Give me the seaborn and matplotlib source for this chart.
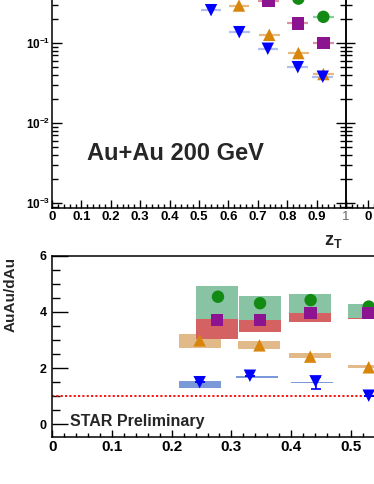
import numpy as np
import pandas as pd
import matplotlib
matplotlib.use("Agg")
import matplotlib.pyplot as plt
import matplotlib.ticker as mtick
import seaborn as sns

# ── Data: top panel, per-trigger yield vs zT ─────────────────────────────────
blue_zt   = [0.541, 0.637, 0.734, 0.836, 0.921]
blue_y    = [0.258, 0.137, 0.085, 0.050, 0.038]
orange_zt = [0.636, 0.739, 0.838, 0.923]
orange_y  = [0.295, 0.127, 0.075, 0.041]
purple_zt = [0.736, 0.836, 0.923]
purple_y  = [0.340, 0.176, 0.100]
green_zt  = [0.838, 0.923]
green_y   = [0.360, 0.213]

# ── Data: bottom panel, AuAu/dAu ratio ───────────────────────────────────────
r_green_x  = [0.2775, 0.348, 0.4327, 0.530]
r_green_y  = [4.54, 4.31, 4.42, 4.19]
r_purple_x = [0.276, 0.348, 0.4327, 0.530]
r_purple_y = [3.71, 3.71, 3.97, 3.97]
r_orange_x = [0.2468, 0.347, 0.432, 0.530]
r_orange_y = [2.99, 2.81, 2.41, 2.03]
r_blue_x   = [0.2468, 0.331, 0.441, 0.530]
r_blue_y   = [1.50, 1.73, 1.53, 1.02]
r_blue_err_lo = [0.0, 0.0, 0.28, 0.0]
r_blue_err_hi = [0.0, 0.0, 0.15, 0.0]

# systematic boxes (centre, low, high)
sys_green_x  = [0.2765, 0.348, 0.4316, 0.531]
sys_green_lo = [3.75, 3.72, 3.97, 3.77]
sys_green_hi = [4.91, 4.57, 4.64, 4.28]
sys_red_x    = [0.2765, 0.348, 0.4316, 0.531]
sys_red_lo   = [3.04, 3.27, 3.63, 3.74]
sys_red_hi   = [3.75, 3.72, 3.97, 3.77]
sys_orange_x  = [0.2468, 0.346, 0.432, 0.531]
sys_orange_lo = [2.71, 2.67, 2.37, 1.99]
sys_orange_hi = [3.20, 2.96, 2.53, 2.11]
sys_blue_x  = [0.2468, 0.343, 0.435]
sys_blue_lo = [1.30, 1.66, 1.48]
sys_blue_hi = [1.54, 1.72, 1.50]

top_xticks = [0, 0.1, 0.2, 0.3, 0.4, 0.5, 0.6, 0.7, 0.8, 0.9, 1]
top_xlabels = ["0", "0.1", "0.2", "0.3", "0.4", "0.5", "0.6", "0.7", "0.8", "0.9", "1"]
bot_xticks = [0, 0.1, 0.2, 0.3, 0.4, 0.5]
bot_xlabels = ["0", "0.1", "0.2", "0.3", "0.4", "0.5"]
bot_yticks = [0, 2, 4, 6]

# ── Palette ───────────────────────────────────────────────────────────────────
GREEN  = "#138a13"
PURPLE = "#8c1490"
ORANGE = "#d8860b"
BLUE   = "#0000ff"
GREEN_BOX  = "#88c4a4"
RED_BOX    = "#d46262"
ORANGE_BOX = "#e2ba8a"
BLUE_BOX   = "#7b98d8"
BAR_COLORS = {"green": "#86cc9c", "purple": "#d892a2", "orange": "#e8b97e", "blue": "#b0bef0"}
PAL     = {"green": GREEN, "purple": PURPLE, "orange": ORANGE, "blue": BLUE}
MARKERS = {"green": "o", "purple": "s", "orange": "^", "blue": "v"}

sns.set_style("ticks")
plt.rcParams.update({
    "font.family": ["Liberation Sans", "DejaVu Sans"],
    "font.weight": "bold",
    "mathtext.fontset": "custom",
    "mathtext.rm": "Liberation Sans:bold",
    "mathtext.it": "Liberation Sans:bold",
    "mathtext.bf": "Liberation Sans:bold",
    "mathtext.default": "rm",
    "axes.linewidth": 1.1,
    "axes.edgecolor": "black",
    "xtick.color": "black",
    "ytick.color": "black",
})

W, H = 374, 484
fig = plt.figure(figsize=(W / 100, H / 100), dpi=100)


def frac(x0, y_top, x1, y_bot):
    return [x0 / W, (H - y_bot) / H, (x1 - x0) / W, (y_bot - y_top) / H]


def long_df(groups):
    rows = []
    for name, xs, ys in groups:
        for x, y in zip(xs, ys):
            rows.append({"x": x, "y": y, "series": name})
    return pd.DataFrame(rows)


def decade_label(v, pos):
    e = int(round(np.log10(v)))
    return r"$10^{%d}$" % e if e < 0 else ""


# ── Top panel ────────────────────────────────────────────────────────────────
ax = fig.add_axes(frac(52, -75, 346, 208))
ax.set_yscale("log")
ax.set_xlim(0, 1)
ax.set_ylim(8.66e-4, 3.0)

top_groups = [("green", green_zt, green_y), ("purple", purple_zt, purple_y),
              ("orange", orange_zt, orange_y), ("blue", blue_zt, blue_y)]
for name, xs, ys in top_groups:
    xs = np.array(xs)
    ax.hlines(ys, xs - 0.035, xs + 0.035, colors=BAR_COLORS[name], lw=1.6, zorder=1)

df_top = long_df(top_groups)
sns.scatterplot(data=df_top, x="x", y="y", hue="series", style="series",
                palette=PAL, markers=MARKERS, s=80, linewidth=0,
                legend=False, ax=ax, zorder=3)
ax.set_xlabel("")
ax.set_ylabel("")

ax.set_xticks(top_xticks, top_xlabels)
ax.xaxis.set_minor_locator(mtick.MultipleLocator(0.02))
ax.yaxis.set_major_locator(mtick.LogLocator(base=10))
ax.yaxis.set_minor_locator(mtick.LogLocator(base=10, subs=np.arange(2, 10)))
ax.yaxis.set_minor_formatter(mtick.NullFormatter())
ax.yaxis.set_major_formatter(mtick.FuncFormatter(decade_label))
ax.tick_params(axis="x", which="major", direction="in", length=5.8, width=1,
               labelsize=9.5, pad=2)
ax.tick_params(axis="x", which="minor", direction="in", length=2.9, width=1)
ax.tick_params(axis="y", which="major", direction="in", length=7, width=1,
               labelsize=8.5, pad=1.5, right=True)
ax.tick_params(axis="y", which="minor", direction="in", length=4, width=1, right=True)
for lab in ax.get_xticklabels():
    lab.set_fontweight("bold")
ax.get_xticklabels()[-1].set_color("#666666")
ax.get_xticklabels()[-1].set_fontweight("normal")

# neighbouring panel (cut off on the right), only its first label shows
ax2 = fig.add_axes(frac(346, -75, 640, 208))
ax2.set_yscale("log")
ax2.set_xlim(-0.0816, 0.9184)
ax2.set_ylim(8.66e-4, 3.0)
ax2.set_xticks(top_xticks, ["0"] + [""] * (len(top_xticks) - 1))
ax2.xaxis.set_minor_locator(mtick.MultipleLocator(0.02))
ax2.yaxis.set_major_locator(mtick.LogLocator(base=10))
ax2.yaxis.set_minor_locator(mtick.LogLocator(base=10, subs=np.arange(2, 10)))
ax2.yaxis.set_major_formatter(mtick.NullFormatter())
ax2.yaxis.set_minor_formatter(mtick.NullFormatter())
ax2.tick_params(axis="x", which="major", direction="in", length=5.8, width=1,
                labelsize=9.5, pad=2)
ax2.tick_params(axis="x", which="minor", direction="in", length=2.9, width=1)
ax2.tick_params(axis="y", which="major", direction="in", length=6.5, width=1)
ax2.tick_params(axis="y", which="minor", direction="in", length=4, width=1)
ax2.patch.set_alpha(0)

fig.text(87 / W, 1 - 154 / H, "Au+Au 200 GeV", fontsize=17, fontweight="bold",
         ha="left", va="center")
fig.text(333 / W, 1 - 241 / H, r"$z_{T}$", fontsize=13, ha="center", va="center")

# ── Bottom panel ─────────────────────────────────────────────────────────────
bx = fig.add_axes(frac(52.3, 255.7, 52.3 + 0.6 * 597, 437))
bx.set_xlim(0, 0.6)
bx.set_ylim(-0.45, 6)

BOX_W = 0.07
box_sets = [(sys_orange_x, sys_orange_lo, sys_orange_hi, ORANGE_BOX),
            (sys_blue_x, sys_blue_lo, sys_blue_hi, BLUE_BOX),
            (sys_green_x, sys_green_lo, sys_green_hi, GREEN_BOX),
            (sys_red_x, sys_red_lo, sys_red_hi, RED_BOX)]
for cx, lo, hi, col in box_sets:
    lo = np.array(lo)
    hi = np.array(hi)
    bx.bar(cx, hi - lo, bottom=lo, width=BOX_W, color=col, linewidth=0, zorder=1)

bx.axhline(1, color="#ff0000", ls=(0, (1.2, 1.2)), lw=1.3, zorder=2)

bx.errorbar(r_blue_x, r_blue_y, yerr=[r_blue_err_lo, r_blue_err_hi], fmt="none",
            ecolor=BLUE, elinewidth=1.2, capsize=3.5, capthick=1.2, zorder=2)

bot_groups = [("green", r_green_x, r_green_y), ("purple", r_purple_x, r_purple_y),
              ("orange", r_orange_x, r_orange_y), ("blue", r_blue_x, r_blue_y)]
df_bot = long_df(bot_groups)
sns.scatterplot(data=df_bot, x="x", y="y", hue="series", style="series",
                palette=PAL, markers=MARKERS, s=80, linewidth=0,
                legend=False, ax=bx, zorder=3)
bx.set_xlabel("")
bx.set_ylabel("")

bx.set_xticks(bot_xticks, bot_xlabels)
bx.set_yticks(bot_yticks)
bx.xaxis.set_minor_locator(mtick.MultipleLocator(0.02))
bx.yaxis.set_minor_locator(mtick.MultipleLocator(0.5))
bx.tick_params(axis="x", which="major", direction="in", length=5, width=1,
               labelsize=11, pad=2.5)
bx.tick_params(axis="x", which="minor", direction="in", length=2.9, width=1)
bx.tick_params(axis="y", which="major", direction="in", length=11.5, width=1,
               labelsize=9, pad=4)
bx.tick_params(axis="y", which="minor", direction="in", length=5.8, width=1)
for lab in bx.get_xticklabels() + bx.get_yticklabels():
    lab.set_fontweight("bold")

fig.text(11 / W, 1 - 294 / H, "AuAu/dAu", fontsize=11, fontweight="bold",
         rotation=90, ha="center", va="center")
fig.text(70 / W, 1 - 421.7 / H, "STAR Preliminary", fontsize=11.5,
         fontweight="bold", ha="left", va="center")

fig.savefig("out.png", dpi=100)
plt.close()
